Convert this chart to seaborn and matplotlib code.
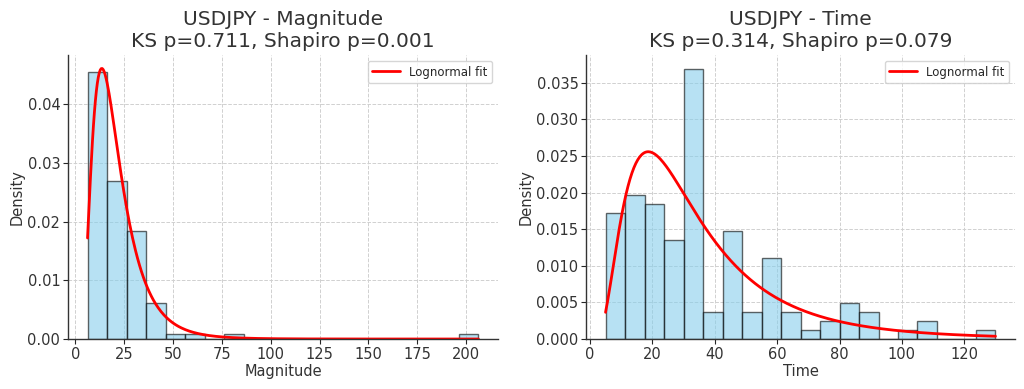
"""
USDJPY magnitude / time distributions with lognormal fits.
"""

import numpy as np
import pandas as pd
import matplotlib
matplotlib.use('Agg')
import matplotlib.pyplot as plt
import seaborn as sns

# Magnitude histogram (20 equal bins between data min and max)
mag_min, mag_max = 6.3, 206.3
mag_counts = [59, 35, 24, 8, 1, 1, 0, 1, 0, 0, 0, 0, 0, 0, 0, 0, 0, 0, 0, 1]
# lognormal fit (shape, loc, scale)
mag_fit = (0.548, 0.0, 18.36)
mag_ks, mag_shapiro = 0.711, 0.001

# Time histogram
time_min, time_max = 5.0, 130.0
time_counts = [14, 16, 15, 11, 30, 3, 12, 3, 9, 3, 1, 2, 4, 3, 0, 1, 2, 0, 0, 1]
time_fit = (0.668, 0.0, 29.2)
time_ks, time_shapiro = 0.314, 0.079

pair = 'USDJPY'

sns.set_style("whitegrid")
plt.rcParams['font.family'] = ['DejaVu Sans']


def lognorm_pdf(x, s, loc, scale):
    y = (x - loc) / scale
    return np.exp(-np.log(y) ** 2 / (2 * s ** 2)) / (y * s * np.sqrt(2 * np.pi)) / scale


def plot_panel(ax, counts, lo, hi, fit, name, ks, shapiro):
    edges = np.linspace(lo, hi, len(counts) + 1)
    df = pd.DataFrame({'center': (edges[:-1] + edges[1:]) / 2,
                       'count': np.asarray(counts, dtype=float)})
    sns.histplot(data=df, x='center', weights='count', bins=list(edges), stat='density',
                 color='skyblue', edgecolor=(0, 0, 0, 0.6), alpha=0.6, linewidth=1.0, ax=ax)
    xs = np.linspace(lo, hi, 400)
    sns.lineplot(x=xs, y=lognorm_pdf(xs, *fit), color='red', linewidth=2,
                 label='Lognormal fit', ax=ax)
    ax.set_title(f'{pair} - {name}\nKS p={ks:.3f}, Shapiro p={shapiro:.3f}',
                 fontsize=14.5, color='#333333', pad=6)
    ax.set_xlabel(name, fontsize=10.5, color='#333333', labelpad=2)
    ax.set_ylabel('Density', fontsize=10.5, color='#333333', labelpad=2)
    ax.tick_params(labelsize=10.5, labelcolor='#333333', direction='out', length=3.5,
                   left=True, bottom=True, pad=2)
    ax.grid(True, linestyle='--', color='#d0d0d0', linewidth=0.7)
    for side in ['top', 'right']:
        ax.spines[side].set_visible(False)
    for side in ['left', 'bottom']:
        ax.spines[side].set_color('#333333')
        ax.spines[side].set_linewidth(1.0)
    ax.legend(loc='upper right', fontsize=8.5, frameon=True, handlelength=2.3)


fig = plt.figure(figsize=(10.24, 3.89), dpi=100)
ax1 = fig.add_axes([0.0664, 0.1285, 0.4199, 0.7301])
ax2 = fig.add_axes([0.5723, 0.1285, 0.4189, 0.7301])

plot_panel(ax1, mag_counts, mag_min, mag_max, mag_fit, 'Magnitude', mag_ks, mag_shapiro)
plot_panel(ax2, time_counts, time_min, time_max, time_fit, 'Time', time_ks, time_shapiro)

plt.savefig('out.png', dpi=100)
plt.close()
